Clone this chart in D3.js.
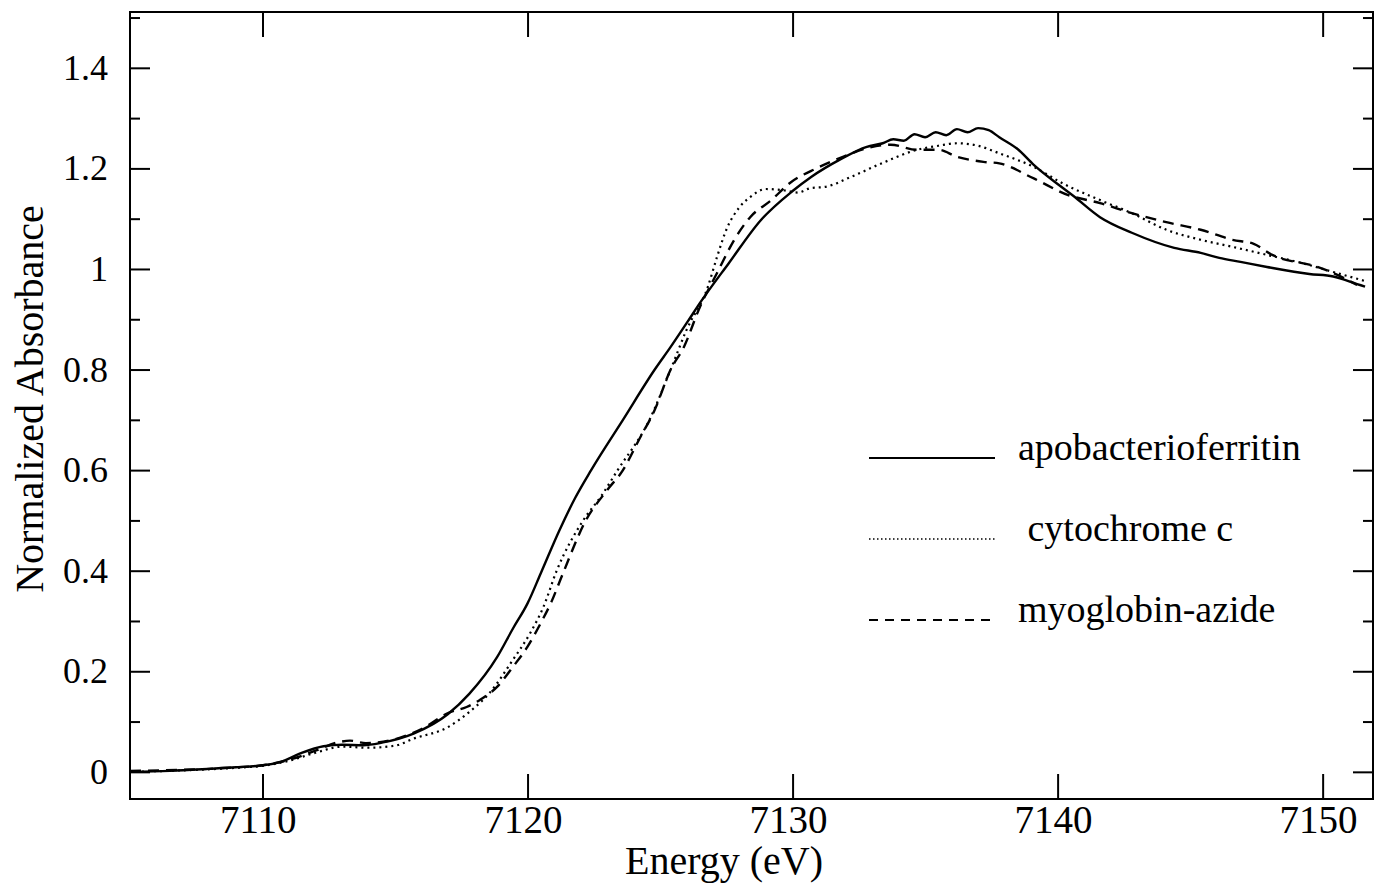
<!DOCTYPE html>
<html>

<head>
  <meta charset="utf-8">
  <title>Fe K-edge XANES</title>
  <script src="https://d3js.org/d3.v7.min.js"></script>
  <style>
    body { margin: 0; background: #fff; }
    text { font-family: "Liberation Serif", "Times New Roman", serif; fill: #000; }
  </style>
</head>

<body>
  <script>
    // data (energy in eV, normalized absorbance)
    var apoEnergy = [7105, 7106.5, 7108, 7109, 7110, 7110.7, 7111.4, 7112.3, 7113, 7113.8, 7114.5, 7115.7, 7117, 7117.8,
      7118.85, 7119.45, 7120, 7120.5, 7121.2, 7121.8, 7122.4, 7123.6, 7124.8, 7125.4, 7126.1, 7126.5, 7127.6, 7128.8, 7130,
      7130.7, 7131.8, 7132.8, 7133.4, 7133.8, 7134.2, 7134.6, 7135.0, 7135.4, 7135.8, 7136.2, 7136.6, 7137.0, 7137.4,
      7137.8, 7138.5, 7139.1, 7140.1, 7140.6, 7141.6, 7142.8, 7144.4, 7145.4, 7146.1, 7146.9, 7147.9, 7149.5, 7150.4,
      7151.3, 7151.6];
    var apoAbs = [0.0, 0.002, 0.006, 0.009, 0.013, 0.02, 0.036, 0.051, 0.054, 0.053, 0.058, 0.076, 0.115, 0.155,
      0.228, 0.285, 0.335, 0.395, 0.48, 0.545, 0.6, 0.7, 0.8, 0.845, 0.9, 0.932, 1.012, 1.097, 1.155,
      1.183, 1.218, 1.243, 1.25, 1.258, 1.255, 1.268, 1.262, 1.272, 1.266, 1.278, 1.272, 1.28, 1.276,
      1.262, 1.238, 1.207, 1.165, 1.145, 1.103, 1.072, 1.042, 1.032, 1.022, 1.014, 1.004, 0.99, 0.985,
      0.97, 0.965];

    var cytEnergy = [7105, 7107, 7109, 7110, 7111, 7112, 7113, 7114, 7115, 7115.7, 7117, 7117.8, 7118.6, 7119.45,
      7120.1, 7120.6, 7121.1, 7122.1, 7122.8, 7123.4, 7124.6, 7125.4, 7126, 7126.8, 7127.15, 7127.5, 7128, 7128.4,
      7129, 7129.6, 7130.2, 7130.7, 7131.2, 7132.2, 7133.4, 7134.7, 7135.5, 7136.2, 7137, 7137.8, 7139.1, 7140.2,
      7141.6, 7142.8, 7144.1, 7145.4, 7146.6, 7147.9, 7149.2, 7150.4, 7151.6];
    var cytAbs = [0.0, 0.003, 0.008, 0.012, 0.022, 0.038, 0.05, 0.048, 0.052, 0.066, 0.089, 0.119, 0.159, 0.223,
      0.276, 0.328, 0.4, 0.5, 0.55, 0.6, 0.7, 0.8, 0.879, 0.964, 1.024, 1.078, 1.123, 1.143,
      1.159, 1.157, 1.152, 1.161, 1.163, 1.183, 1.211, 1.237, 1.245, 1.25, 1.245, 1.23, 1.203, 1.17,
      1.137, 1.111, 1.078, 1.058, 1.044, 1.028, 1.012, 0.994, 0.976];

    var myoEnergy = [7105, 7107, 7109, 7110, 7111, 7112, 7112.8, 7113.3, 7113.9, 7115.2, 7116, 7117, 7117.7, 7118.2,
      7118.85, 7119.45, 7120, 7120.5, 7120.9, 7121.3, 7122.2, 7123, 7123.6, 7124.2, 7124.8, 7125.4, 7125.9, 7126.5,
      7127.15, 7127.8, 7128.4, 7129.2, 7129.9, 7130.9, 7131.9, 7132.8, 7133.7, 7134.7, 7135.5, 7136.2, 7137.2,
      7137.8, 7139.1, 7140.4, 7141.6, 7142.8, 7144.1, 7145.4, 7146.6, 7147.4, 7148.1, 7149.8, 7150.4, 7151.3];
    var myoAbs = [0.002, 0.004, 0.009, 0.013, 0.024, 0.042, 0.058, 0.062, 0.057, 0.068, 0.085, 0.117, 0.129, 0.143,
      0.169, 0.209, 0.249, 0.296, 0.338, 0.39, 0.5, 0.56, 0.6, 0.66, 0.72, 0.8, 0.845, 0.924,
      0.992, 1.058, 1.103, 1.137, 1.171, 1.2, 1.223, 1.24, 1.247, 1.237, 1.237, 1.223, 1.213,
      1.21, 1.18, 1.147, 1.131, 1.111, 1.093, 1.078, 1.058, 1.05, 1.028, 1.004, 0.992, 0.968];

    var seriesNames = ["apobacterioferritin", " cytochrome c", "myoglobin-azide"];
    var xTicks = [7110, 7120, 7130, 7140, 7150];
    var yTicks = [0, 0.2, 0.4, 0.6, 0.8, 1, 1.2, 1.4];
    var yMinorTicks = [0.1, 0.3, 0.5, 0.7, 0.9, 1.1, 1.3, 1.5];

    var width = 1377;
    var height = 886;
    var margin = { "top": 12, "bottom": 87, "right": 4, "left": 130 };
    var w = width - margin.left - margin.right;
    var h = height - margin.top - margin.bottom;

    var svg = d3.select("body").append("svg").attr("width", width).attr("height", height);
    svg.append("rect").attr("width", width).attr("height", height).attr("fill", "#fff");
    var g = svg.append("g").attr("transform", "translate(" + margin.left + "," + margin.top + ")");

    var xScale = d3.scaleLinear().domain([7105, 7151.9]).range([0, w]);
    var yScale = d3.scaleLinear().domain([-0.054, 1.511]).range([h, 0]);

    // axes, ticks pointing inward
    function styleAxis(sel) {
      sel.select(".domain").remove();
      sel.selectAll(".tick line").attr("stroke", "#000").attr("stroke-width", 2);
    }

    g.append("g")
      .attr("transform", "translate(0," + h + ")")
      .call(d3.axisBottom(xScale).tickValues(xTicks).tickSize(-25).tickPadding(6).tickFormat(d3.format("d")))
      .call(styleAxis)
      .selectAll("text").attr("font-size", 39).attr("font-family", "Liberation Serif").attr("dx", "-0.12em");

    g.append("g")
      .call(d3.axisTop(xScale).tickValues(xTicks).tickSize(-25).tickFormat(""))
      .call(styleAxis);

    g.append("g")
      .call(d3.axisLeft(yScale).tickValues(yTicks).tickSize(-20).tickPadding(22).tickFormat(function (d) { return d3.format("")(d); }))
      .call(styleAxis)
      .selectAll("text").attr("font-size", 36).attr("font-family", "Liberation Serif");

    g.append("g")
      .call(d3.axisLeft(yScale).tickValues(yMinorTicks).tickSize(-10).tickFormat(""))
      .call(styleAxis);

    g.append("g")
      .attr("transform", "translate(" + w + ",0)")
      .call(d3.axisRight(yScale).tickValues(yTicks).tickSize(-20).tickFormat(""))
      .call(styleAxis);

    g.append("g")
      .attr("transform", "translate(" + w + ",0)")
      .call(d3.axisRight(yScale).tickValues(yMinorTicks).tickSize(-10).tickFormat(""))
      .call(styleAxis);

    g.append("rect")
      .attr("width", w).attr("height", h)
      .attr("fill", "none").attr("stroke", "#000").attr("stroke-width", 2);

    // curves
    var line = d3.line()
      .x(function (d) { return xScale(d[0]); })
      .y(function (d) { return yScale(d[1]); })
      .curve(d3.curveMonotoneX);

    var series = [
      { name: seriesNames[0], data: d3.zip(apoEnergy, apoAbs), dash: null, sw: 2.4 },
      { name: seriesNames[1], data: d3.zip(cytEnergy, cytAbs), dash: "2,4", sw: 2.2 },
      { name: seriesNames[2], data: d3.zip(myoEnergy, myoAbs), dash: "11,7", sw: 2.4 }
    ];

    g.selectAll(".curve")
      .data(series)
      .enter()
      .append("path")
      .attr("class", "curve")
      .attr("d", function (d) { return line(d.data); })
      .attr("fill", "none")
      .attr("stroke", "#000")
      .attr("stroke-width", function (d) { return d.sw; })
      .attr("stroke-dasharray", function (d) { return d.dash; });

    // legend
    var legend = svg.append("g").attr("transform", "translate(869,458)");
    var item = legend.selectAll("g")
      .data(series)
      .enter()
      .append("g")
      .attr("transform", function (d, i) { return "translate(0," + (i * 81) + ")"; });

    item.append("line")
      .attr("x1", 0).attr("x2", 126).attr("y1", 0).attr("y2", 0)
      .attr("stroke", "#000")
      .attr("stroke-width", function (d) { return d.dash === "2,4" ? 1.6 : 2; })
      .attr("stroke-dasharray", function (d) { return d.dash === "2,4" ? "1.5,2.5" : (d.dash ? "9,7" : null); });

    item.append("text")
      .attr("x", 149).attr("y", 0).attr("dy", "0.05em")
      .attr("font-size", 38)
      .style("white-space", "pre")
      .attr("xml:space", "preserve")
      .text(function (d) { return d.name; });

    // axis titles
    svg.append("text")
      .attr("x", 724).attr("y", 874)
      .attr("text-anchor", "middle")
      .attr("font-size", 40)
      .text("Energy (eV)");

    svg.append("text")
      .attr("transform", "translate(43,399) rotate(-90)")
      .attr("text-anchor", "middle")
      .attr("font-size", 40)
      .text("Normalized Absorbance");
  </script>
</body>

</html>
